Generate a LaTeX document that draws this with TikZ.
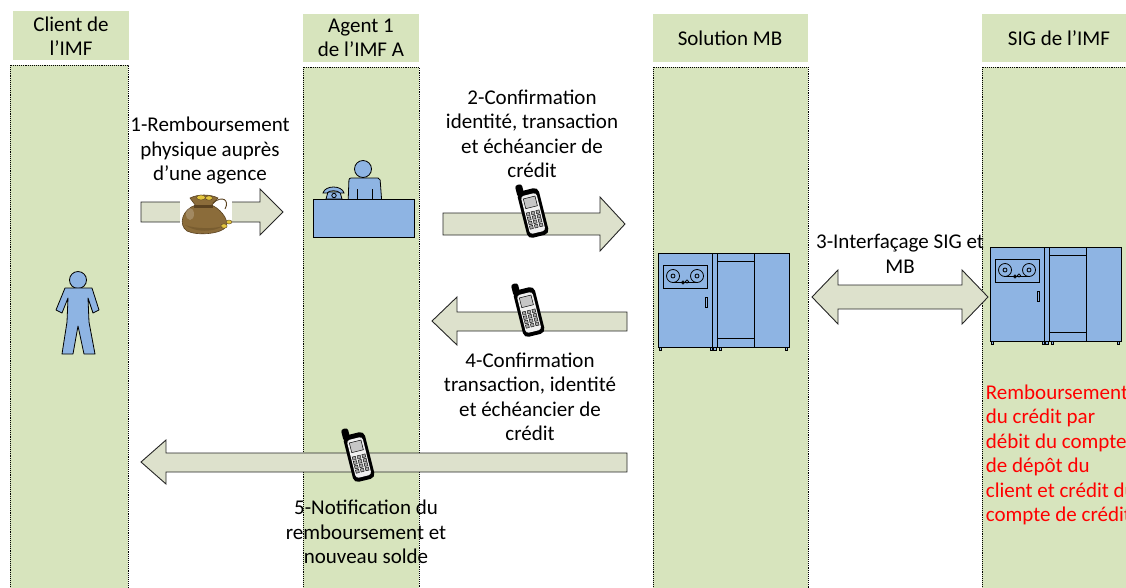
\documentclass[tikz,border=0pt]{standalone}
\usepackage{fontspec}
\setmainfont{Carlito}

\definecolor{vert}{RGB}{215,228,189}
\definecolor{fleche}{RGB}{221,225,204}
\definecolor{bleu}{RGB}{142,180,227}
\definecolor{sac}{RGB}{139,108,58}
\definecolor{sacbord}{RGB}{90,66,32}
\definecolor{piece}{RGB}{228,198,62}

% serveur (coin haut gauche en #1,#2)
\newcommand{\serveur}[2]{%
  \begin{scope}[shift={(#1,#2)}]
    \draw[fill=bleu] (0,0) rectangle (131,94);
    \draw (54,0) -- (54,94);
    \draw (59,0) -- (59,94);
    \draw (96,0) -- (96,94);
    \draw (59,8) rectangle (96,85);
    \draw (5,12) rectangle (49,35);
    \draw (15,23) circle (6.5);
    \draw (15,23) circle (2);
    \draw (39,23) circle (6.5);
    \draw (39,23) circle (2);
    \draw (15,29.5) -- (39,29.5);
    \draw (25,29.5) circle (1.6);
    \draw (29,28.5) circle (1.6);
    \draw (47,44) rectangle (49,54);
    \draw[fill=bleu] (1,94) rectangle (3,97);
    \draw[fill=bleu] (52,94) rectangle (54.5,97);
    \draw[fill=bleu] (55.5,94) rectangle (58,97);
    \draw[fill=bleu] (61,94) rectangle (63.5,97);
    \draw[fill=bleu] (127,94) rectangle (129,97);
  \end{scope}}

% portable (centre en #1,#2)
\newcommand{\portable}[2]{%
  \begin{scope}[shift={(#1,#2)},rotate=14]
    \fill[rounded corners=2.5] (-11,-31) rectangle (-4,-19);
    \fill[rounded corners=5] (-11,-24) rectangle (11,24);
    \fill[gray!12,rounded corners=3] (-8,-19) rectangle (8,20);
    \draw[fill=gray!45,line width=0.5pt] (-6,-16) rectangle (6,-6);
    \foreach \i in {-5,0,5}
      \foreach \j in {0,4.5,9,13.5}
        \draw[fill=gray!70,line width=0.4pt] (\i-1.6,\j-1.6) rectangle (\i+1.6,\j+1.6);
  \end{scope}}

\begin{document}
\begin{tikzpicture}[x=1pt,y=-1pt,line width=0.8pt,
    txt/.style={align=center,font=\fontsize{21}{24.5}\selectfont},
    couloir/.style={fill=vert,draw=black,densely dotted,line width=0.9pt},
    blocfleche/.style={fill=fleche,draw=black!85,line width=0.9pt,line join=miter}]
  \useasboundingbox (0,0) rectangle (1126,587);

  %colonnes
  \fill[vert] (13,11) rectangle (129,60);
  \fill[vert] (303,14) rectangle (419,62);
  \fill[vert] (653,14) rectangle (808,62);
  \fill[vert] (982,14) rectangle (1137,62);
  \draw[couloir] (10,65) rectangle (128,595);
  \draw[couloir] (303,67) rectangle (419,595);
  \draw[couloir] (653,67) rectangle (808,595);
  \draw[couloir] (982,67) rectangle (1140,595);
  \node[txt] (h1) at (71,36) {Client de\\l’IMF};
  \node[txt] (h2) at (361,38) {Agent 1\\de l’IMF A};
  \node[txt] (h3) at (730,38) {Solution MB};
  \node[txt] (h4) at (1059,38) {SIG de l’IMF};

  %client
  \draw[fill=bleu] (78,280) circle (8.5);
  \draw[fill=bleu,line join=round] (65,288) -- (92,288) -- (99,310) -- (93,313) -- (88,298)
    -- (89,322) -- (95,354) -- (84,354) -- (78,326) -- (73,354) -- (62,354) -- (67,322)
    -- (68,298) -- (62,313) -- (56,310) -- cycle;

  %agent au guichet
  \draw[fill=bleu] (363,169) circle (8.5);
  \draw[fill=bleu,rounded corners=2] (348,205) -- (349,178) -- (380,178) -- (382,205);
  \draw (357,189) -- (357,199);
  \draw (372,189) -- (372,199);
  \draw[fill=bleu] (313,199) rectangle (414,237);
  \draw[fill=bleu] (326,199) -- (328,192) -- (340,192) -- (342,199) -- cycle;
  \draw[fill=bleu] (323,193) .. controls (325,185) and (342,185) .. (344,193) -- (340,193)
    .. controls (338,190) and (329,190) .. (327,193) -- cycle;
  \draw (334,195.5) circle (2.2);

  %serveurs
  \serveur{658}{253}
  \serveur{990}{247}

  %fleche 1
  \draw[blocfleche] (141,202) -- (260,202) -- (260,189) -- (283,212) -- (260,235) -- (260,222) -- (141,222) -- cycle;
  \node[txt] (t1) at (210,151) {1-Remboursement\\physique auprès\\d’une agence};
  %sac
  \fill[white] (180,195) rectangle (232,233);
  \draw[sacbord,fill=sac,line width=0.6pt] (196,205) .. controls (182,209) and (178,225) .. (187,231)
    .. controls (197,236) and (221,234) .. (226,227) .. controls (230,219) and (218,207) .. (211,205) -- cycle;
  \draw[sacbord,fill=sac,line width=0.6pt] (196,206) -- (211,206) -- (218,198)
    .. controls (210,194) and (198,194) .. (190,198) -- cycle;
  \fill[sacbord] (194,204.5) rectangle (213,207.5);
  \draw[sacbord,fill=piece,line width=0.4pt] (201,197.5) ellipse (4.5 and 2.5);
  \draw[sacbord,fill=piece,line width=0.4pt] (209,198) ellipse (3.5 and 2.2);
  \draw[sacbord,line width=0.9pt] (213,203) .. controls (222,195) and (230,200) .. (225,209);
  \draw[sacbord,fill=piece,line width=0.4pt] (224,226) ellipse (3.2 and 2.2);
  \draw[sacbord,fill=piece,line width=0.4pt] (229,222) ellipse (3 and 2);
  \fill[sacbord,opacity=0.35] (185,225) .. controls (196,233) and (214,232) .. (223,226)
    .. controls (214,229) and (196,229) .. (185,225) -- cycle;
  \fill[white,opacity=0.2] (190,214) ellipse (4 and 6);

  %fleche 2
  \draw[blocfleche] (443,213) -- (600,213) -- (600,197) -- (625,224) -- (600,251) -- (600,235) -- (443,235) -- cycle;
  \node[txt] (t2) at (532,134) {2-Confirmation\\identité, transaction\\et échéancier de\\crédit};
  \portable{533}{213}

  %fleche 3
  \draw[blocfleche] (812,297) -- (838,270) -- (838,285) -- (962,285) -- (962,270) -- (988,297)
    -- (962,324) -- (962,309) -- (838,309) -- (838,324) -- cycle;
  \node[txt] (t3) at (900,254) {3-Interfaçage SIG et\\MB};

  %fleche 4
  \draw[blocfleche] (627,312) -- (457,312) -- (457,297) -- (432,321) -- (457,345) -- (457,331) -- (627,331) -- cycle;
  \node[txt] (t4) at (530,397) {4-Confirmation\\transaction, identité\\et échéancier de\\crédit};
  \portable{529}{312}

  %fleche 5
  \draw[blocfleche] (627,453) -- (166,453) -- (166,440) -- (141,462) -- (166,484) -- (166,472) -- (627,472) -- cycle;
  \node[txt] (t5) at (366,532) {5-Notification du\\remboursement et\\nouveau solde};
  \portable{359}{457}

  %ecriture dans le SIG
  \node[txt,align=left,anchor=west,text=red,inner sep=0pt] (t6) at (985.5,455)
    {Remboursement\\du crédit par\\débit du compte\\de dépôt du\\client et crédit du\\compte de crédit};
\end{tikzpicture}
\end{document}
